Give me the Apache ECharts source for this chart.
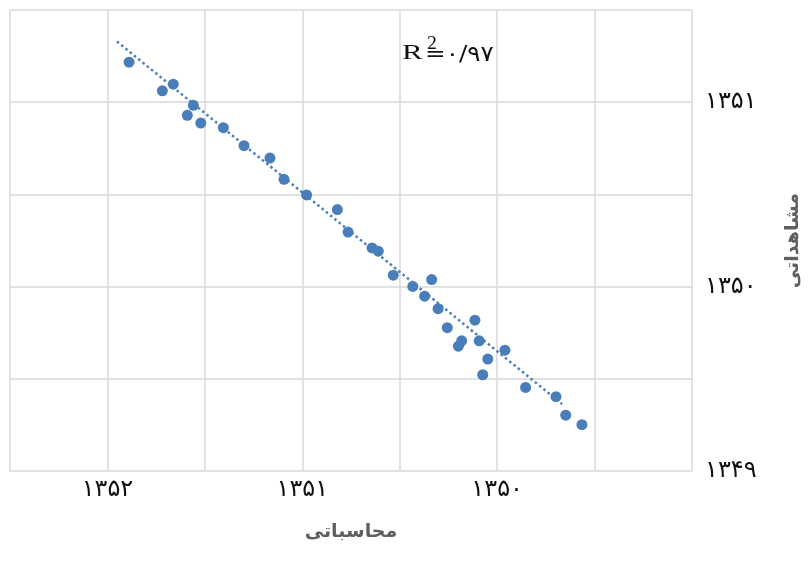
<!DOCTYPE html>
<html>
<head>
<meta charset="utf-8">
<script src="https://cdn.jsdelivr.net/npm/echarts@6/dist/echarts.min.js"></script>
<style>
html,body{margin:0;padding:0;background:#fff;}
#chart{width:811px;height:576px;}
</style>
</head>
<body>
<div id="chart"></div>
<script>
// Data (computed vs observed)
const computed = [1351.889,1351.718,1351.662,1351.559,1351.590,1351.521,1351.405,1351.299,1351.166,1351.094,
  1350.978,1350.820,1350.765,1350.642,1350.610,1350.533,1350.433,1350.336,1350.372,1350.303,
  1350.256,1350.182,1350.199,1350.114,1350.092,1349.960,1350.048,1350.074,1349.854,1349.698,
  1349.648,1349.565];
const observed = [1351.217,1351.062,1351.098,1350.983,1350.929,1350.887,1350.862,1350.764,1350.697,1350.582,
  1350.497,1350.418,1350.296,1350.210,1350.192,1350.062,1350.001,1350.038,1349.948,1349.880,
  1349.777,1349.706,1349.677,1349.818,1349.706,1349.655,1349.607,1349.522,1349.453,1349.403,
  1349.303,1349.251];
// Trendline endpoints
const trendX = [1351.951, 1349.667];
const trendY = [1351.329, 1349.363];
// Tick labels
const xTickValues = [1352, 1351, 1350];
const xTickLabels = ['۱۳۵۲', '۱۳۵۱', '۱۳۵۰'];
const yTickValues = [1351, 1350, 1349];
const yTickLabels = ['۱۳۵۱', '۱۳۵۰', '۱۳۴۹'];
const xAxisName = 'محاسباتی';
const yAxisName = 'مشاهداتی';
const r2Label = '=۰/۹۷';

function labelFor(values, labels) {
  return function (v) {
    for (let i = 0; i < values.length; i++) {
      if (Math.abs(values[i] - v) < 1e-6) return labels[i];
    }
    return '';
  };
}

const chart = echarts.init(document.getElementById('chart'), null, {renderer: 'canvas'});
const FONT = '"DejaVu Sans", sans-serif';
const BLUE = '#4a7ebb';

chart.setOption({
  animation: false,
  backgroundColor: '#fff',
  grid: {left: 10, right: 119, top: 10, bottom: 105, containLabel: false},
  xAxis: {
    type: 'value', inverse: true, min: 1349, max: 1352.5, interval: 0.5,
    axisLine: {show: false}, axisTick: {show: false},
    splitLine: {show: true, lineStyle: {color: '#d9d9d9', width: 1.5}},
    axisLabel: {formatter: labelFor(xTickValues, xTickLabels), fontFamily: FONT, fontSize: 24, color: '#111', margin: 7, showMinLabel: true, showMaxLabel: true},
    name: xAxisName, nameLocation: 'middle', nameGap: 52,
    nameTextStyle: {fontFamily: FONT, fontSize: 19, fontWeight: 'bold', color: '#5f5f5f'}
  },
  yAxis: {
    type: 'value', position: 'right', min: 1349, max: 1351.5, interval: 0.5,
    axisLine: {show: false}, axisTick: {show: false},
    splitLine: {show: true, lineStyle: {color: '#d9d9d9', width: 1.5}},
    axisLabel: {formatter: labelFor(yTickValues, yTickLabels), fontFamily: FONT, fontSize: 24, color: '#111', margin: 13, showMinLabel: true, showMaxLabel: true},
    name: yAxisName, nameLocation: 'middle', nameGap: 92,
    nameTextStyle: {fontFamily: FONT, fontSize: 19, fontWeight: 'bold', color: '#5f5f5f'}
  },
  graphic: [
    {type: 'text', x: 402, y: 44, scaleX: 1.55, style: {text: 'R', x: 0, y: 0, verticalAlign: 'top', font: '20px "Liberation Serif", serif', fill: '#111'}},
    {type: 'text', x: 427, y: 35, scaleX: 1.1, style: {text: '2', x: 0, y: 0, verticalAlign: 'top', font: '18px "Liberation Serif", serif', fill: '#111'}},
    {type: 'text', x: 425, y: 44, scaleX: 1.12, style: {text: r2Label, x: 0, y: 0, verticalAlign: 'top', font: '22px "DejaVu Sans", sans-serif', fill: '#111'}}
  ],
  series: [
    {
      type: 'scatter', symbol: 'circle', symbolSize: 11,
      itemStyle: {color: BLUE, opacity: 1},
      data: computed.map((x, i) => [x, observed[i]]),
      z: 2
    },
    {
      type: 'line', showSymbol: false, symbol: 'none',
      lineStyle: {color: BLUE, width: 2.5, type: [2.5, 3]},
      data: trendX.map((x, i) => [x, trendY[i]]),
      z: 3
    }
  ]
});
</script>
</body>
</html>
